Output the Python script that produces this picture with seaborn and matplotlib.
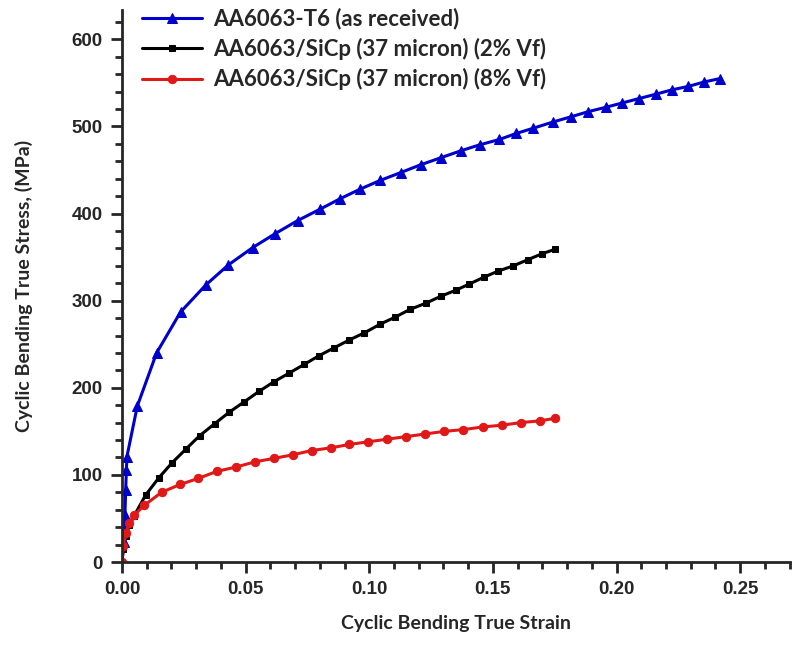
import numpy as np
import pandas as pd
import seaborn as sns
import matplotlib
matplotlib.use("Agg")
import matplotlib.pyplot as plt
from matplotlib.ticker import MultipleLocator, FormatStrFormatter

# AA6063-T6 (as received)
t6_strain = [0.0, 0.0008, 0.0012, 0.0015, 0.0018, 0.0020, 0.0062, 0.0140, 0.0237, 0.0339,
             0.0430, 0.0529, 0.0620, 0.0711, 0.0801, 0.0882, 0.0963, 0.1044, 0.1127,
             0.1208, 0.1289, 0.1370, 0.1448, 0.1526, 0.1595, 0.1664, 0.1742, 0.1815,
             0.1886, 0.1957, 0.2024, 0.2091, 0.2159, 0.2224, 0.2291, 0.2354, 0.2419]
t6_stress = [0, 23, 54, 83, 106, 121, 179, 240, 287, 318,
             341, 361, 377, 392, 405, 417, 428, 438, 447,
             456, 464, 472, 479, 485, 492, 498, 505, 511,
             517, 522, 527, 532, 537, 542, 546, 551, 555]

# AA6063/SiCp (37 micron) (2% Vf)
sic2_strain = [0.0, 0.0005, 0.0015, 0.0030, 0.0049, 0.0096, 0.0150, 0.0203, 0.0260, 0.0314,
               0.0376, 0.0434, 0.0495, 0.0555, 0.0615, 0.0677, 0.0738, 0.0798, 0.0859,
               0.0920, 0.0980, 0.1044, 0.1104, 0.1165, 0.1228, 0.1289, 0.1350, 0.1404,
               0.1464, 0.1522, 0.1583, 0.1641, 0.1700, 0.1752]
sic2_stress = [0, 15, 30, 42, 53, 77, 97, 114, 130, 145,
               159, 172, 184, 196, 207, 217, 227, 237, 246,
               255, 263, 273, 281, 290, 297, 305, 312, 319,
               327, 334, 340, 347, 354, 359]

# AA6063/SiCp (37 micron) (8% Vf)
sic8_strain = [0.0, 0.0005, 0.0015, 0.0030, 0.0050, 0.0090, 0.0160, 0.0235, 0.0309, 0.0383,
               0.0461, 0.0538, 0.0615, 0.0690, 0.0767, 0.0844, 0.0920, 0.0996, 0.1073,
               0.1150, 0.1227, 0.1304, 0.1381, 0.1458, 0.1535, 0.1612, 0.1689, 0.1752]
sic8_stress = [0, 18, 33, 45, 54, 65, 80, 89, 96, 104,
               109, 115, 119, 123, 128, 131, 135, 138, 141,
               144, 147, 150, 152, 155, 157, 160, 162, 165]

labels = ["AA6063-T6 (as received)",
          "AA6063/SiCp (37 micron) (2% Vf)",
          "AA6063/SiCp (37 micron) (8% Vf)"]
colors = ["#0000cc", "#000000", "#e01818"]
markers = ["^", "s", "o"]
msizes = [7, 5, 6]

sns.set_style("ticks")
plt.rcParams["font.family"] = ["Liberation Sans", "DejaVu Sans"]

fig = plt.figure(figsize=(7.92, 6.46), dpi=100)
ax = fig.add_axes([0.154, 0.130, 0.843, 0.855])

series = [(t6_strain, t6_stress), (sic2_strain, sic2_stress), (sic8_strain, sic8_stress)]
for i in range(len(series)):
    df = pd.DataFrame({"strain": series[i][0], "stress": series[i][1]})
    sns.lineplot(data=df, x="strain", y="stress", ax=ax, color=colors[i],
                 marker=markers[i], markersize=msizes[i], markeredgecolor=colors[i],
                 linewidth=2.2, label=labels[i], errorbar=None)

ax.set_xlim(0, 0.27)
ax.set_ylim(0, 634)
ax.xaxis.set_major_locator(MultipleLocator(0.05))
ax.xaxis.set_minor_locator(MultipleLocator(0.01))
ax.yaxis.set_major_locator(MultipleLocator(100))
ax.yaxis.set_minor_locator(MultipleLocator(20))
ax.xaxis.set_major_formatter(FormatStrFormatter("%.2f"))

sns.despine(ax=ax)
for s in ["left", "bottom"]:
    ax.spines[s].set_linewidth(2)
ax.tick_params(which="major", length=8, width=2, labelsize=13.5, pad=6)
ax.tick_params(which="minor", length=5, width=2)
for lab in ax.get_xticklabels() + ax.get_yticklabels():
    lab.set_fontweight("bold")

ax.set_xlabel("Cyclic Bending True Strain", fontsize=14, fontweight="bold",
              family=["Lato", "DejaVu Sans"], labelpad=12)
ax.set_ylabel("Cyclic Bending True Stress, (MPa)", fontsize=14, fontweight="bold",
              family=["Lato", "DejaVu Sans"], labelpad=28)

leg = ax.legend(loc="upper left", bbox_to_anchor=(0.0, 1.04), frameon=False,
                handlelength=2.7, labelspacing=0.38, handletextpad=0.5,
                prop={"family": "Lato", "weight": "bold", "size": 16})

fig.savefig("out.png", dpi=100)
